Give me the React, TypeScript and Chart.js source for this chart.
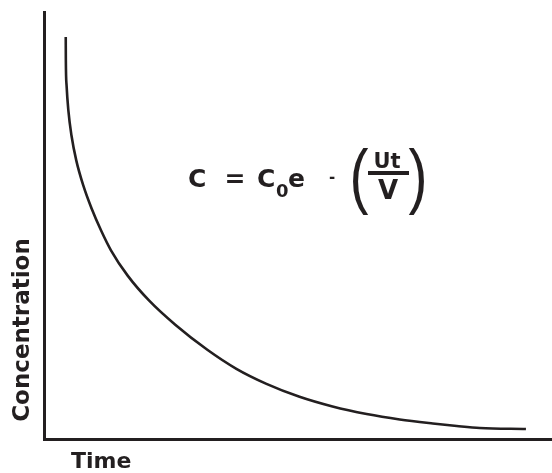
import React, { useEffect, useRef } from "react";
import { Chart, registerables } from "chart.js";

Chart.register(...registerables);

// Time (arbitrary units) and concentration (arbitrary units)
const timeValues = [4.28, 4.3, 4.44, 4.79, 5.4, 6.35, 7.73, 9.37, 11.24, 13.21, 16.47, 20.71, 25.84, 32.15, 37.87, 43.79, 50.3, 56.8, 63.51, 70.02, 76.53, 81.26, 85.8, 94.87];
const concentrationValues = [94.13, 88.73, 82.86, 77.0, 71.13, 65.26, 59.39, 53.99, 48.83, 44.13, 38.26, 32.39, 26.76, 20.89, 16.43, 12.91, 9.88, 7.61, 5.85, 4.58, 3.64, 3.05, 2.58, 2.35];

const xTitle = "Time";
const yTitle = "Concentration";

const INK = "#231f20";
const FONT = "'DejaVu Sans', sans-serif";

const textPlugin = {
  id: "textPlugin",
  afterDraw(chart: any) {
    const ctx: CanvasRenderingContext2D = chart.ctx;
    ctx.save();
    ctx.fillStyle = INK;
    ctx.textBaseline = "alphabetic";

    // y title (rotated)
    ctx.save();
    ctx.translate(29, 330);
    ctx.rotate(-Math.PI / 2);
    ctx.font = `bold 23px ${FONT}`;
    ctx.textAlign = "center";
    ctx.fillText(yTitle, 0, 0);
    ctx.restore();

    // x title
    ctx.font = `bold 22px ${FONT}`;
    ctx.textAlign = "left";
    ctx.fillText(xTitle, 71, 468);

    // formula
    ctx.font = `bold 25px ${FONT}`;
    ctx.textAlign = "left";
    ctx.fillText("C", 188, 187);
    ctx.textAlign = "center";
    ctx.fillText("=", 235, 187);
    ctx.textAlign = "left";
    ctx.fillText("C", 257, 187);
    ctx.font = `bold 18px ${FONT}`;
    ctx.fillText("0", 276, 197);
    ctx.font = `bold 25px ${FONT}`;
    ctx.fillText("e", 288, 187);
    ctx.font = `bold 15px ${FONT}`;
    ctx.textAlign = "center";
    ctx.fillText("-", 332, 182);

    // parentheses, stretched vertically
    ctx.font = `30px 'Liberation Sans', sans-serif`;
    ctx.save();
    ctx.translate(359, 200);
    ctx.scale(1.9, 2.4);
    ctx.fillText("(", 0, 0);
    ctx.restore();
    ctx.save();
    ctx.translate(418, 200);
    ctx.scale(1.9, 2.4);
    ctx.fillText(")", 0, 0);
    ctx.restore();

    ctx.font = `bold 21px ${FONT}`;
    ctx.textAlign = "center";
    ctx.fillText("Ut", 387, 168);
    ctx.fillRect(368, 171, 41, 4);
    ctx.font = `bold 26px ${FONT}`;
    ctx.fillText("V", 388, 199);

    ctx.restore();
  },
};

export default function App() {
  const ref = useRef<HTMLCanvasElement | null>(null);
  useEffect(() => {
    if (!ref.current) return;
    const chart = new Chart(ref.current, {
      type: "line",
      data: {
        datasets: [
          {
            data: timeValues.map((t, i) => ({ x: t, y: concentrationValues[i] })),
            borderColor: INK,
            borderWidth: 2.6,
            pointRadius: 0,
            fill: false,
            cubicInterpolationMode: "monotone",
          },
        ],
      },
      options: {
        animation: false,
        responsive: false,
        layout: { padding: { left: 44, right: 0, top: 12, bottom: 34 } },
        plugins: { legend: { display: false }, tooltip: { enabled: false } },
        scales: {
          x: {
            type: "linear",
            min: 0,
            max: 100,
            grid: { display: false, drawTicks: false },
            ticks: { display: false },
            border: { display: true, color: INK, width: 3 },
          },
          y: {
            type: "linear",
            min: 0,
            max: 100,
            grid: { display: false, drawTicks: false },
            ticks: { display: false },
            border: { display: true, color: INK, width: 3 },
          },
        },
      },
      plugins: [textPlugin],
    });
    return () => chart.destroy();
  }, []);
  return (
    <canvas
      ref={ref}
      width={552}
      height={473}
      style={{ position: "absolute", left: 0, top: 0, display: "block" }}
    />
  );
}
